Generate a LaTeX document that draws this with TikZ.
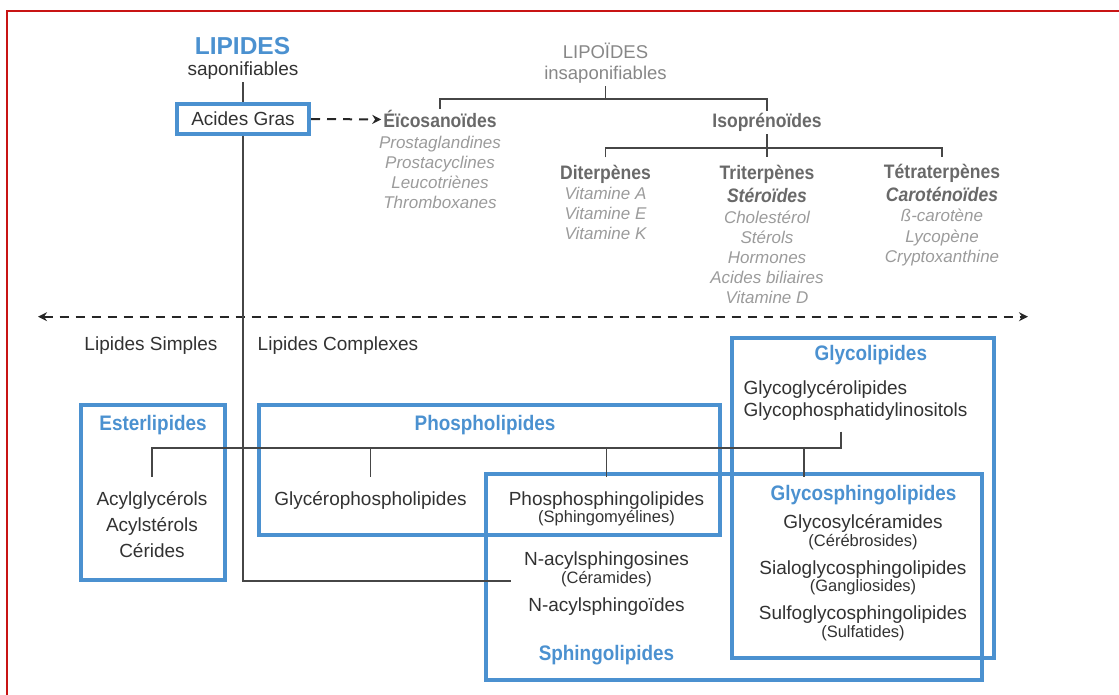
\documentclass[tikz,border=0pt]{standalone}
\usepackage{fontspec}
\setmainfont{Liberation Sans}
\newfontfamily\condfont[FakeStretch=0.9]{Liberation Sans}
\usetikzlibrary{positioning, arrows.meta}

\definecolor{lipblue}{RGB}{75,145,208}
\definecolor{bodytxt}{RGB}{50,50,50}
\definecolor{titlegray}{RGB}{105,105,105}
\definecolor{itemgray}{RGB}{155,155,155}
\definecolor{lipoidgray}{RGB}{135,135,135}
\definecolor{linegray}{RGB}{70,70,70}
\definecolor{framered}{RGB}{200,20,20}

\tikzset{
    txt/.style={anchor=base, inner sep=2pt, text=bodytxt, font=\fontsize{19}{22}\selectfont},
    small/.style={txt, font=\fontsize{16.5}{18}\selectfont},
    ital/.style={anchor=base, inner sep=2pt, text=itemgray, font=\itshape\fontsize{17}{20}\selectfont},
    gtitle/.style={anchor=base, inner sep=2pt, text=titlegray, font=\condfont\bfseries\fontsize{19.5}{22}\selectfont},
    btitle/.style={anchor=base, inner sep=2pt, text=lipblue, font=\condfont\bfseries\fontsize{21}{24}\selectfont},
    lipoid/.style={anchor=base, inner sep=2pt, text=lipoidgray, font=\fontsize{18.5}{22}\selectfont},
    bluebox/.style={draw=lipblue, line width=4pt, inner sep=0pt},
    link/.style={draw=linegray, line width=1.8pt},
    dashlink/.style={draw=black!85, line width=2pt, dash pattern=on 9pt off 7pt},
    tip/.style={-{Stealth[length=9pt, width=9pt]}},
}

\begin{document}
\begin{tikzpicture}[x=1pt, y=-1pt]
\useasboundingbox (0,0) rectangle (1119,695);
\draw[framered, line width=2pt] (7,695) |- (1119,11.5);

% saponifiables
\node[anchor=base, inner sep=2pt, text=lipblue, font=\bfseries\fontsize{24.5}{28}\selectfont] (lip) at (242.5,55) {LIPIDES};
\node[txt] (sapo) at (243,76) {saponifiables};
\node[bluebox, txt, anchor=center, minimum width=132pt, minimum height=30pt] (ag) at (243,119) {Acides Gras};

% insaponifiables
\node[lipoid] (lipo) at (605.5,59) {LIPOÏDES};
\node[lipoid] (insapo) at (605.5,80) {insaponifiables};
\node[gtitle] (eico) at (440,128) {Éïcosanoïdes};
\foreach \t [count=\i from 0] in {Prostaglandines, Prostacyclines, Leucotriènes, Thromboxanes}
    \node[ital] (eico-\i) at (440,148.5+20*\i) {\t};
\node[gtitle] (isop) at (767,128) {Isoprénoïdes};
\node[gtitle] (diter) at (605.5,180) {Diterpènes};
\foreach \t [count=\i from 0] in {Vitamine A, Vitamine E, Vitamine K}
    \node[ital] (diter-\i) at (605.5,200+20*\i) {\t};
\node[gtitle] (triter) at (767,180) {Triterpènes};
\node[gtitle, font=\condfont\bfseries\itshape\fontsize{19.5}{22}\selectfont] (ster) at (767,203) {Stéroïdes};
\foreach \t [count=\i from 0] in {Cholestérol, Stérols, Hormones, Acides biliaires, Vitamine D}
    \node[ital] (triter-\i) at (767,223+20.2*\i) {\t};
\node[gtitle] (tetra) at (942,178.5) {Tétraterpènes};
\node[gtitle, font=\condfont\bfseries\itshape\fontsize{19.5}{22}\selectfont] (carot) at (942,201.7) {Caroténoïdes};
\foreach \t [count=\i from 0] in {ß-carotène, Lycopène, Cryptoxanthine}
    \node[ital] (tetra-\i) at (942,222+20.2*\i) {\t};

\coordinate (bar1) at (605.5,99);
\coordinate (bar2) at (767,148.3);
\draw[link] (insapo.south) -- (bar1);
\draw[link] (eico.north) |- (bar1) -| (isop.north);
\draw[link, shorten >=6pt] (isop.south) -- (triter.north);
\draw[link, shorten <=6pt, shorten >=5pt] (diter.north) |- (bar2) -| (tetra.north);
\draw[link] (sapo.south) -- (ag.north);
\draw[dashlink, tip] (ag.east) -- (eico.west);

% separation
\coordinate (sep-l) at (38,316.7);
\coordinate (sep-r) at (1028,316.7);
\draw[dashlink, {Stealth[length=9pt, width=9pt]}-{Stealth[length=9pt, width=9pt]}] (sep-l) -- (sep-r);
\node[txt] (simples) at (151,350) {Lipides Simples};
\node[txt] (complexes) at (338,350) {Lipides Complexes};

% boxes
\node[bluebox, minimum width=144.2pt, minimum height=175pt] (esterbox) at (152.7,492.5) {};
\node[bluebox, minimum width=460.6pt, minimum height=130pt] (phosbox) at (489.3,470) {};
\node[bluebox, minimum width=496pt, minimum height=206pt] (sphbox) at (734,576.7) {};
\node[bluebox, minimum width=262.5pt, minimum height=320pt] (glybox) at (863,498) {};

\node[btitle] (ester) at (153,430) {Esterlipides};
\foreach \t [count=\i from 0] in {Acylglycérols, Acylstérols, Cérides}
    \node[txt] (ester-\i) at (152,505+26*\i) {\t};
\node[btitle] (phos) at (485,430) {Phospholipides};
\node[txt] (glyc) at (370.5,505) {Glycérophospholipides};
\node[txt] (phsph) at (606.5,505) {Phosphosphingolipides};
\node[small] (phsph-s) at (606.5,522.5) {(Sphingomyélines)};
\node[txt] (acylsph) at (606.5,565) {N-acylsphingosines};
\node[small] (acylsph-s) at (606.5,583.5) {(Céramides)};
\node[txt] (acylsphd) at (606.5,611.7) {N-acylsphingoïdes};
\node[btitle] (sph) at (606.5,660.7) {Sphingolipides};
\node[btitle] (gly) at (870.8,360) {Glycolipides};
\node[txt, anchor=base west] (glygly) at (741.3,394) {Glycoglycérolipides};
\node[txt, anchor=base west] (glyphos) at (741.3,416) {Glycophosphatidylinositols};
\node[btitle] (gsl) at (863.5,500) {Glycosphingolipides};
\foreach \a/\b [count=\i from 0] in {Glycosylcéramides/{(Cérébrosides)}, Sialoglycosphingolipides/{(Gangliosides)}, Sulfoglycosphingolipides/{(Sulfatides)}}{
    \node[txt] (gsl-\i) at (863,528.3+45.8*\i) {\a};
    \node[small] (gsl-\i-s) at (863,546+45.8*\i) {\b};}

% links
\coordinate (cer-in) at (511,581);
\draw[link] (ag.south) |- (cer-in);
\coordinate (gp-out) at (841,431.7);
\coordinate (bar3) at (841,447.7);
\coordinate (gsl-in) at (803.7,477);
\draw[link, shorten >=12pt] (gp-out) -- (bar3) -| (ester-0.north);
\foreach \n in {glyc, phsph}
    \draw[link, shorten >=12pt] (bar3 -| \n.north) -- (\n.north);
\draw[link] (bar3 -| gsl-in) -- (gsl-in);
\end{tikzpicture}
\end{document}
